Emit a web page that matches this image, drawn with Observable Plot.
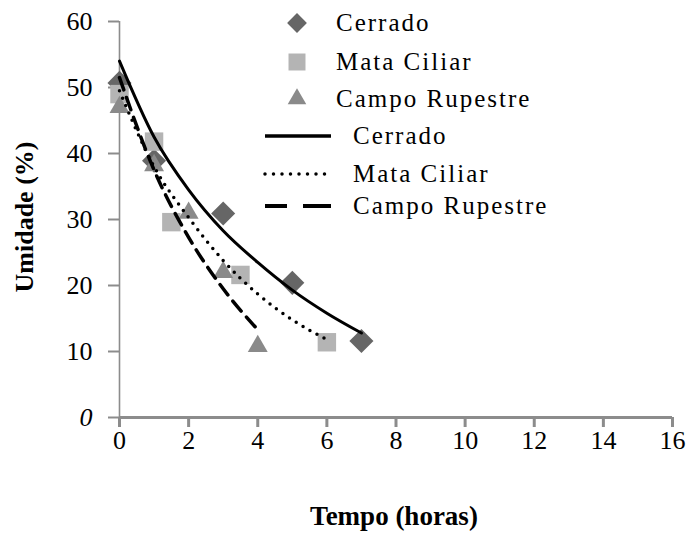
<!DOCTYPE html>
<html>
<head>
<meta charset="utf-8">
<script src="https://cdn.jsdelivr.net/npm/d3@7"></script>
<script src="https://cdn.jsdelivr.net/npm/@observablehq/plot@0.6"></script>
<style>
  body { margin: 0; background: #fff; }
  #chart { position: relative; width: 692px; height: 533px; }
  #chart svg text { font-family: 'Liberation Serif', 'Times New Roman', serif; }
</style>
</head>
<body>
<div id="chart"></div>
<script>
// Observed moisture (%) over drying time (hours) for each vegetation type
const tempoCerrado = [0, 1, 3, 5, 7];
const umidadeCerrado = [50.7, 38.9, 30.9, 20.4, 11.6];
const tempoMata = [0, 1, 1.5, 3.5, 6];
const umidadeMata = [49.0, 41.8, 29.6, 21.6, 11.4];
const tempoCampo = [0, 1, 2, 3, 4];
const umidadeCampo = [47.0, 38.2, 31.0, 22.0, 10.8];

// Fitted trend curves
const curvaTempoCerrado = [0, 1, 2, 3, 4, 5, 6, 7];
const curvaCerrado = [54.0, 42.5, 34.5, 28.3, 23.5, 19.3, 15.8, 12.8];
const curvaTempoMata = [0, 1, 2, 3, 4, 5, 6];
const curvaMata = [49.5, 38.0, 30.3, 23.8, 18.7, 14.8, 11.8];
const curvaTempoCampo = [0, 1, 2, 3, 4];
const curvaCampo = [51.5, 37.5, 27.3, 19.5, 13.3];

// Axis ticks and labels
const xTicks = [0, 2, 4, 6, 8, 10, 12, 14, 16];
const yTicks = [0, 10, 20, 30, 40, 50, 60];
const xLabel = "Tempo (horas)";
const yLabel = "Umidade (%)";
const series = ["Cerrado", "Mata Ciliar", "Campo Rupestre"];

const zip = (xs, ys, nome) => xs.map((x, i) => ({x, y: ys[i], nome}));
const pontosCerrado = zip(tempoCerrado, umidadeCerrado, series[0]);
const pontosMata = zip(tempoMata, umidadeMata, series[1]);
const pontosCampo = zip(tempoCampo, umidadeCampo, series[2]);
const linhaCerrado = zip(curvaTempoCerrado, curvaCerrado, series[0]);
const linhaMata = zip(curvaTempoMata, curvaMata, series[1]);
const linhaCampo = zip(curvaTempoCampo, curvaCampo, series[2]);

const axisGray = "#8c8c8c";
const corCerrado = "#666666";
const corMata = "#b4b4b4";
const corCampo = "#8a8a8a";
const serif = "'Liberation Serif', 'Times New Roman', serif";

const chart = Plot.plot({
  width: 692,
  height: 533,
  marginLeft: 119,
  marginRight: 20,
  marginTop: 21,
  marginBottom: 116,
  style: {fontFamily: serif, fontSize: "26px", color: "#000", background: "#fff"},
  x: {domain: [0, 16]},
  y: {domain: [0, 60]},
  marks: [
    Plot.axisY({ticks: yTicks, tickSize: 11, tickPadding: 16, stroke: axisGray, strokeWidth: 2, label: null}),
    Plot.axisX({ticks: xTicks, tickSize: 10, tickPadding: 3, stroke: axisGray, strokeWidth: 3, label: null}),
    Plot.ruleX([0], {stroke: axisGray, strokeWidth: 1.6}),
    Plot.ruleY([0], {stroke: axisGray, strokeWidth: 3}),
    Plot.dot(pontosCerrado, {x: "x", y: "y", symbol: "square", rotate: 45, r: 9.6, fill: corCerrado, stroke: "none"}),
    Plot.dot(pontosMata, {x: "x", y: "y", symbol: "square", r: 10.4, fill: corMata, stroke: "none"}),
    Plot.dot(pontosCampo, {x: "x", y: "y", symbol: "triangle", r: 7.4, fill: corCampo, stroke: "none"}),
    Plot.line(linhaCerrado, {x: "x", y: "y", curve: "monotone-x", stroke: "#000", strokeWidth: 3}),
    Plot.line(linhaMata, {x: "x", y: "y", curve: "monotone-x", stroke: "#000", strokeWidth: 3.5, strokeDasharray: "0 8", strokeLinecap: "round"}),
    Plot.line(linhaCampo, {x: "x", y: "y", curve: "monotone-x", stroke: "#000", strokeWidth: 3.5, strokeDasharray: "13 8"})
  ]
});

document.getElementById("chart").appendChild(chart);

// The zero label on the vertical axis is set in italics
const svg = d3.select(chart);
svg.selectAll('g[aria-label="y-axis tick label"] text')
  .filter(function () { return this.textContent === "0"; })
  .attr("font-style", "italic");

// Axis titles and legend, drawn into the same SVG
svg.append("text")
  .attr("x", 394).attr("y", 525)
  .attr("text-anchor", "middle")
  .attr("font-family", serif)
  .attr("font-weight", "bold")
  .attr("font-size", 27)
  .text(xLabel);
svg.append("text")
  .attr("transform", "translate(33,217) rotate(-90)")
  .attr("text-anchor", "middle")
  .attr("font-family", serif)
  .attr("font-weight", "bold")
  .attr("font-size", 26)
  .text(yLabel);

const leg = svg.append("g")
  .attr("font-family", serif)
  .attr("font-size", 25)
  .attr("letter-spacing", 2)
  .attr("text-anchor", "start");

const symRows = [
  {y: 23, nome: series[0], kind: "diamond", fill: corCerrado},
  {y: 62, nome: series[1], kind: "square", fill: corMata},
  {y: 99, nome: series[2], kind: "triangle", fill: corCampo}
];
symRows.forEach(r => {
  let d;
  if (r.kind === "diamond") d = d3.symbol(d3.symbolSquare, 14 * 14)();
  else if (r.kind === "square") d = d3.symbol(d3.symbolSquare, 17 * 17)();
  else d = d3.symbol(d3.symbolTriangle, 150)();
  leg.append("path")
    .attr("d", d)
    .attr("fill", r.fill)
    .attr("transform", `translate(297,${r.y})` + (r.kind === "diamond" ? " rotate(45)" : ""));
  leg.append("text").attr("x", 336).attr("y", r.y).attr("dy", "0.33em").text(r.nome);
});

const lineRows = [
  {y: 136, nome: series[0], dash: null, w: 3.5, cap: "butt"},
  {y: 174, nome: series[1], dash: "0 8.5", w: 3.5, cap: "round"},
  {y: 206, nome: series[2], dash: "22 16 31", w: 4, cap: "butt"}
];
lineRows.forEach(r => {
  const l = leg.append("line")
    .attr("x1", 265).attr("x2", 331)
    .attr("y1", r.y).attr("y2", r.y)
    .attr("stroke", "#000")
    .attr("stroke-width", r.w)
    .attr("stroke-linecap", r.cap);
  if (r.dash) l.attr("stroke-dasharray", r.dash);
  leg.append("text").attr("x", 353).attr("y", r.y).attr("dy", "0.33em").text(r.nome);
});
</script>
</body>
</html>
